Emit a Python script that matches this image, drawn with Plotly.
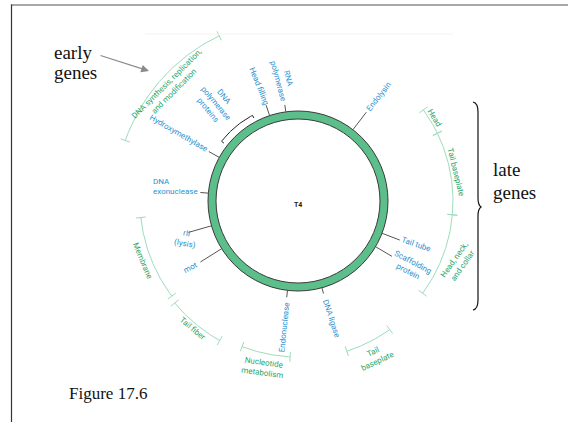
import numpy as np
import plotly.graph_objects as go

# ---------------- data ----------------
genome = "T4"
gene_names = ["Endolysin", "RNA<br>polymerase", "Head filling", "Hydroxymethylase",
              "DNA<br>exonuclease", "rII<br>(lysis)", "mot", "Tail tube",
              "Scaffolding<br>protein", "DNA ligase", "Endonuclease"]
gene_pos = [37.6, -7.8, -18.4, -61.0, -85.0, -106.0, -122.0, 111.0, 120.5, 164.6, 186.7]

cluster_name = "DNA<br>polymerase<br>proteins"
cluster_span = [-52.0, -28.0]

func_names = ["DNA synthesis, replication,<br>and modification", "Membrane", "Tail fiber",
              "Nucleotide<br>metabolism", "Tail<br>baseplate", "Head", "Tail baseplate",
              "Head, neck,<br>and collar"]
func_start = [-25.5, -96.0, -129.6, -159.0, 144.5, 54.0, 64.1, 95.1]
func_end = [-70.7, -127.0, -150.7, -177.1, 162.0, 64.1, 95.1, 126.5]

early_note = ["early", "genes"]
late_note = ["late", "genes"]
caption = "Figure 17.6"

# ---------------- layout constants ----------------
W, H = 568, 422
CX, CY = 298, 201
R_OUT, R_IN = 90, 82
BLUE = "#2b91d2"
GREEN = "#1fa66c"
ARC = "#9ddcbb"
FONT = "Roboto"

tick_r = [112, 97, 101, 102, 98, 114, 115, 109, 109, 96, 97]
lab_b = [37.9, -7.1, -18.7, -60.3, -83.0, -108.7, -121.7, 110.0, 120.5, 164.4, 186.3]
lab_r = [132, 122, 121, 137, 123, 118, 126, 126, 130, 122.5, 127]
lab_a = [-52, 75, 68, 30, 0, 10, -28, 19, 28, 72, -84]
lab_align = ["center"] * 4 + ["left"] + ["center"] * 6

func_r = [183, 158, 160, 156, 158, 155, 155, 155]
flab_b = [-48.4, -111.0, -140.4, -168.0, 153.7, 58.8, 79.5, 111.0]
flab_r = [171, 167, 166, 170, 174, 160, 160, 172]
flab_a = [-45, 67, 40, 8, -25, 58, 76, -55]


def pt(b, r):
    a = np.radians(b)
    return CX + r * np.sin(a), CY - r * np.cos(a)


fig = go.Figure()

# gene ticks
tx, ty = [], []
for b, r in zip(gene_pos, tick_r):
    x0, y0 = pt(b, R_OUT)
    x1, y1 = pt(b, r)
    tx += [x0, x1, None]
    ty += [y0, y1, None]
fig.add_trace(go.Scatter(x=tx, y=ty, mode="lines", line=dict(color="#555555", width=1),
                         hoverinfo="skip", showlegend=False))

# functional arcs
ax_, ay_ = [], []
cx_, cy_ = [], []
for s, e, r in zip(func_start, func_end, func_r):
    bs = np.linspace(s, e, 60)
    xs, ys = pt(bs, r)
    ax_ += list(xs) + [None]
    ay_ += list(ys) + [None]
    for b in (s, e):
        x0, y0 = pt(b, r - 5)
        x1, y1 = pt(b, r + 5)
        cx_ += [x0, x1, None]
        cy_ += [y0, y1, None]
fig.add_trace(go.Scatter(x=ax_ + cx_, y=ay_ + cy_, mode="lines",
                         line=dict(color=ARC, width=1), hoverinfo="skip", showlegend=False))

# cluster bracket (black)
bs = np.linspace(cluster_span[0], cluster_span[1], 40)
xs, ys = pt(bs, 97)
hx0, hy0 = pt(cluster_span[0], 94)
hx1, hy1 = pt(cluster_span[1], 94)
fig.add_trace(go.Scatter(x=[hx0] + list(xs) + [hx1], y=[hy0] + list(ys) + [hy1], mode="lines",
                         line=dict(color="#222222", width=1), hoverinfo="skip", showlegend=False))

shapes = [
    dict(type="circle", xref="x", yref="y", x0=CX - R_OUT, x1=CX + R_OUT, y0=CY - R_OUT, y1=CY + R_OUT,
         fillcolor="#5cbf8b", line=dict(color="#3a3a3a", width=1), layer="below"),
    dict(type="circle", xref="x", yref="y", x0=CX - R_IN, x1=CX + R_IN, y0=CY - R_IN, y1=CY + R_IN,
         fillcolor="white", line=dict(color="#3a3a3a", width=1), layer="below"),
    # slide border
    dict(type="line", xref="x", yref="y", x0=11, x1=568, y0=5, y1=5, line=dict(color="#a8a8a8", width=2)),
    dict(type="line", xref="x", yref="y", x0=11.5, x1=11.5, y0=4.5, y1=422, line=dict(color="#333333", width=1.2)),
    dict(type="line", xref="x", yref="y", x0=145, x1=453, y0=34, y1=34, line=dict(color="#f2f2f2", width=1)),
    # late genes brace
    dict(type="path", xref="x", yref="y",
         path="M 473,102 Q 478,103 478,112 L 478,198 Q 478,205 481,207 Q 478,209 478,216 L 478,300 Q 478,309 473,310",
         line=dict(color="#111111", width=1.2)),
]

ann = []
for name, b, r, a, al in zip(gene_names, lab_b, lab_r, lab_a, lab_align):
    x, y = pt(b, r)
    ann.append(dict(x=x, y=y, xref="x", yref="y", text=name, showarrow=False, textangle=a, align=al,
                    font=dict(family=FONT, size=8, color=BLUE)))
x, y = pt(-40.3, 128)
ann.append(dict(x=x, y=y, xref="x", yref="y", text=cluster_name, showarrow=False, textangle=50,
                font=dict(family=FONT, size=8, color=BLUE)))
for name, b, r, a in zip(func_names, flab_b, flab_r, flab_a):
    x, y = pt(b, r)
    ann.append(dict(x=x, y=y, xref="x", yref="y", text=name, showarrow=False, textangle=a,
                    font=dict(family=FONT, size=8, color=GREEN)))
ann.append(dict(x=CX, y=CY + 4, xref="x", yref="y", text="<b>" + genome + "</b>", showarrow=False,
                font=dict(family=FONT, size=7, color="#222222")))
serif = dict(family="Liberation Serif", size=19, color="#111111")
for i, t in enumerate(early_note):
    ann.append(dict(x=52, y=52 + 20 * i, xref="x", yref="y", xanchor="left", text=t,
                    showarrow=False, font=serif))
for i, t in enumerate(late_note):
    ann.append(dict(x=491, y=169 + 23 * i, xref="x", yref="y", xanchor="left", text=t,
                    showarrow=False, font=serif))
ann.append(dict(x=149, y=71, ax=99, ay=55, xref="x", yref="y", axref="x", ayref="y", text="",
                showarrow=True, arrowhead=2, arrowsize=1.3, arrowwidth=1.2, arrowcolor="#8a8a8a"))
ann.append(dict(x=67, y=393, xref="x", yref="y", xanchor="left", text=caption, showarrow=False,
                font=dict(family="Liberation Serif", size=17, color="#111111")))

fig.update_layout(
    width=W, height=H, margin=dict(l=0, r=0, t=0, b=0),
    paper_bgcolor="white", plot_bgcolor="white",
    xaxis=dict(range=[0, W], visible=False, fixedrange=True),
    yaxis=dict(range=[H, 0], visible=False, fixedrange=True),
    shapes=shapes, annotations=ann, showlegend=False,
)
fig.write_html("out.html", config={"displayModeBar": False, "staticPlot": True},
               post_script="document.body.style.margin='0px';")
